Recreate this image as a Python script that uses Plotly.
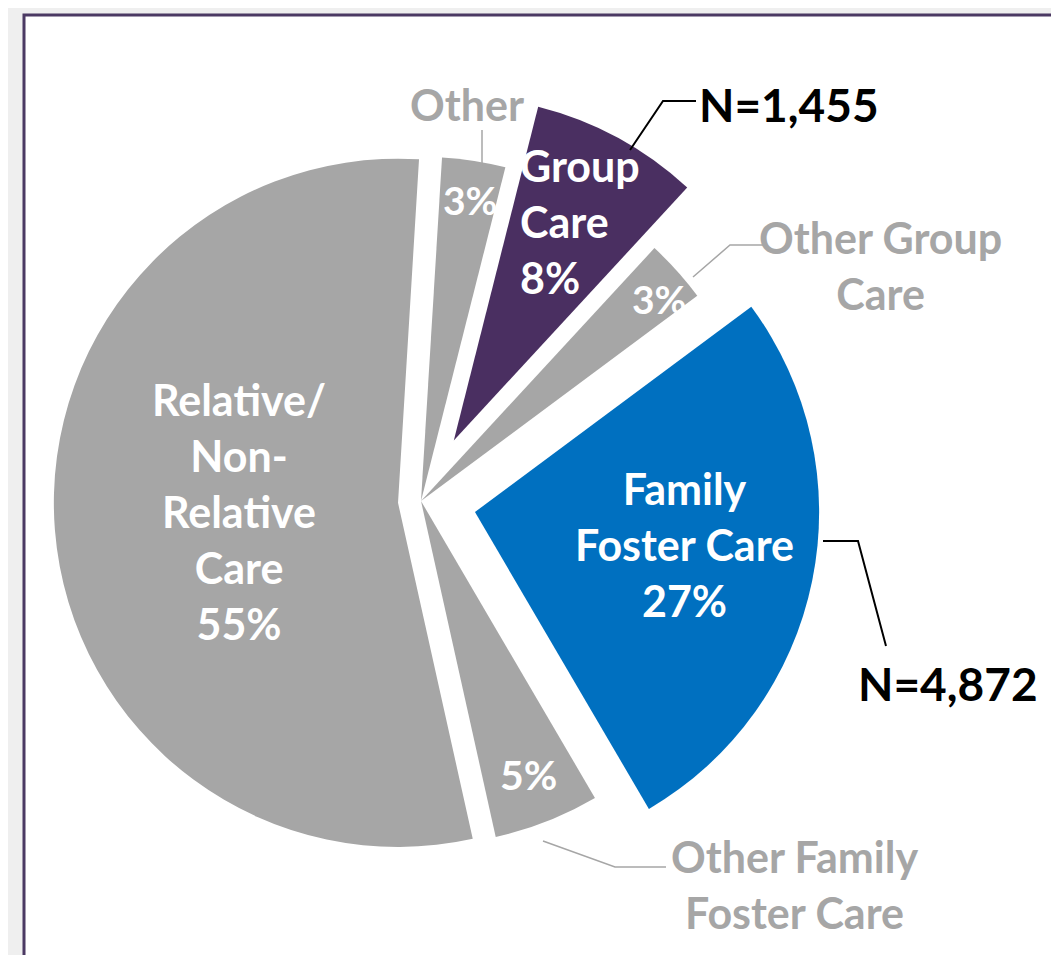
import plotly.graph_objects as go

# ---- data ----
categories = ["Other", "Group Care", "Other Group Care", "Family Foster Care",
              "Other Family Foster Care", "Relative/Non-Relative Care"]
percents = [3, 8, 3, 27, 5, 55]
counts_label = {"Group Care": "N=1,455", "Family Foster Care": "N=4,872"}

GRAY = "#a6a6a6"
colors = [GRAY, "#4a2f61", GRAY, "#0070c0", GRAY, GRAY]
pulls = [0, 0.20, 0, 0.16, 0, 0.067]

W, H = 1059, 955


def px(x):
    return x / W


def py(y):
    return 1 - y / H


fig = go.Figure()
fig.add_trace(go.Pie(
    labels=categories,
    values=percents,
    sort=False,
    direction="clockwise",
    rotation=3.5,
    pull=pulls,
    marker=dict(colors=colors, line=dict(width=0)),
    textinfo="none",
    hoverinfo="label+percent",
    showlegend=False,
    domain=dict(x=[px(0), px(826)], y=[py(906), py(80)]),
))

FONT = "Lato, 'Open Sans', sans-serif"
annotations = []


def add_text(text, x, y, color, size=43, xanchor="center", align="center"):
    annotations.append(dict(
        text="<b>" + text + "</b>", x=px(x), y=py(y), xref="paper", yref="paper",
        showarrow=False, xanchor=xanchor, yanchor="middle", align=align,
        font=dict(family=FONT, size=size, color=color),
    ))


# inside labels
add_text("Relative/<br>Non-<br>Relative<br>Care<br>%d%%" % percents[5], 231, 503, "white")
add_text("Family<br>Foster Care<br>%d%%" % percents[3], 676, 536, "white")
add_text("Group<br>Care<br>%d%%" % percents[1], 510, 213, "white", xanchor="left", align="left")
add_text("%d%%" % percents[0], 462, 192, "white", size=39)
add_text("%d%%" % percents[2], 651, 291, "white", size=39)
add_text("%d%%" % percents[4], 520, 766, "white", size=41)

# outside labels
add_text(categories[0], 459, 97, GRAY)
add_text("Other Group<br>Care", 872, 257, GRAY)
add_text("Other Family<br>Foster Care", 786, 876, GRAY)
add_text(counts_label["Group Care"], 781, 96, "black", size=46)
add_text(counts_label["Family Foster Care"], 940, 675, "black", size=46)

shapes = [
    # white panel with purple frame
    dict(type="rect", xref="paper", yref="paper", x0=px(16), x1=px(1055),
         y0=py(1000), y1=py(7), fillcolor="white",
         line=dict(color="#4b3963", width=3), layer="below"),
]


def leader(points, color, width):
    path = "M " + " L ".join("%f,%f" % (px(a), py(b)) for a, b in points)
    shapes.append(dict(type="path", xref="paper", yref="paper", path=path,
                       line=dict(color=color, width=width)))


leader([(474, 158), (474, 122)], GRAY, 1.5)
leader([(622, 142), (655, 93), (688, 93)], "black", 2)
leader([(685, 269), (722, 237), (755, 237)], GRAY, 1.5)
leader([(815, 533), (850, 533), (878, 638)], "black", 2)
leader([(535, 833), (607, 859), (658, 859)], GRAY, 1.5)

fig.update_layout(
    width=W, height=H,
    margin=dict(l=0, r=0, t=0, b=0),
    paper_bgcolor="#efefef",
    plot_bgcolor="#efefef",
    annotations=annotations,
    shapes=shapes,
)

fig.write_html("out.html")
